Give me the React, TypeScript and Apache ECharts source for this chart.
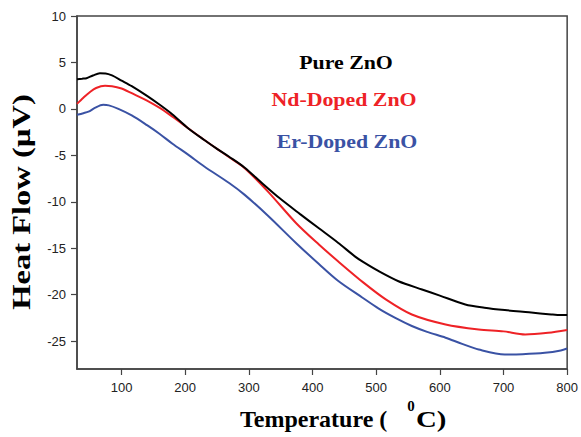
import React, { useEffect, useRef } from "react";
import * as echarts from "echarts";

const xTicks = [100, 200, 300, 400, 500, 600, 700, 800];
const yTicks = [-25, -20, -15, -10, -5, 0, 5, 10];

const pureZnO: [number, number][] = [
  [30, 3.2], [38, 3.25], [45, 3.3], [55, 3.6], [66, 3.84], [75, 3.82], [85, 3.6],
  [100, 3.05], [116, 2.45], [140, 1.4], [160, 0.44], [180, -0.6], [204, -2.05],
  [230, -3.35], [250, -4.3], [269, -5.15], [293, -6.3], [320, -7.95], [348, -9.6], [380, -11.3],
  [410, -12.85], [440, -14.4], [467, -15.9], [480, -16.5], [504, -17.47],
  [535, -18.55], [572, -19.44], [600, -20.1], [640, -21.05], [670, -21.4],
  [702, -21.66], [740, -21.9], [775, -22.13], [790, -22.2], [800, -22.2],
];

const ndDopedZnO: [number, number][] = [
  [30, 0.54], [40, 1.2], [50, 1.8], [60, 2.25], [74, 2.48], [85, 2.45], [100, 2.2],
  [116, 1.69], [140, 0.9], [160, 0.1], [180, -0.85], [204, -2.05], [230, -3.35], [250, -4.3],
  [269, -5.2], [293, -6.35], [330, -8.9], [374, -12.28], [410, -14.6], [440, -16.4], [480, -18.7],
  [515, -20.5], [556, -22.13], [609, -23.2], [661, -23.74], [700, -23.95],
  [734, -24.28], [770, -24.1], [800, -23.8],
];

const erDopedZnO: [number, number][] = [
  [30, -0.64], [40, -0.46], [48, -0.3], [58, 0.1], [71, 0.44], [80, 0.38], [95, 0.0],
  [116, -0.7], [140, -1.75], [160, -2.7], [180, -3.75], [204, -4.9], [230, -6.2],
  [269, -7.98], [293, -9.23], [330, -11.5], [374, -14.43], [410, -16.7], [440, -18.5],
  [478, -20.3], [504, -21.5], [530, -22.5], [556, -23.37], [580, -24.0], [609, -24.63],
  [635, -25.3], [661, -25.9], [702, -26.43], [730, -26.4], [765, -26.25], [790, -26.0],
  [800, -25.8],
];

const seriesNames = ["Pure ZnO", "Nd-Doped ZnO", "Er-Doped ZnO"];
const seriesColors = ["#000000", "#ee2226", "#3a52a4"];

export default function App() {
  const ref = useRef<HTMLDivElement>(null);
  useEffect(() => {
    if (!ref.current) return;
    const chart = echarts.init(ref.current, undefined, { renderer: "svg" });
    const datasets = [pureZnO, ndDopedZnO, erDopedZnO];
    const serif = "'Liberation Serif', 'Times New Roman', serif";
    chart.setOption({
      animation: false,
      backgroundColor: "#ffffff",
      grid: {
        left: 77,
        top: 16,
        right: 12,
        bottom: 68,
        show: true,
        borderColor: "#444",
        borderWidth: 1.5,
        backgroundColor: "transparent",
      },
      xAxis: {
        type: "value",
        min: 30,
        max: 800,
        splitLine: { show: false },
        axisLine: { show: true, onZero: false, lineStyle: { color: "#444", width: 1.5 } },
        axisTick: { show: true, inside: false, length: 6, customValues: xTicks, lineStyle: { color: "#444", width: 1.2 } },
        axisLabel: {
          customValues: xTicks,
          margin: 12,
          fontSize: 13,
          fontFamily: "'Liberation Sans', Arial, sans-serif",
          color: "#222",
        },
      },
      yAxis: {
        type: "value",
        min: -28,
        max: 10,
        splitLine: { show: false },
        axisLine: { show: true, onZero: false, lineStyle: { color: "#444", width: 1.5 } },
        axisTick: { show: true, inside: false, length: 6, customValues: yTicks, lineStyle: { color: "#444", width: 1.2 } },
        axisLabel: {
          customValues: yTicks,
          margin: 11,
          fontSize: 13,
          fontFamily: "'Liberation Sans', Arial, sans-serif",
          color: "#222",
        },
      },
      series: datasets.map((d, i) => ({
        name: seriesNames[i],
        type: "line",
        data: d,
        smooth: 0.3,
        showSymbol: false,
        lineStyle: { color: seriesColors[i], width: 2 },
        itemStyle: { color: seriesColors[i] },
        z: 3 - i,
      })),
      graphic: [
        {
          type: "text",
          x: 346, y: 62.6, scaleX: 1.15,
          style: { text: seriesNames[0], fontSize: 19, fontWeight: "bold", fontFamily: serif, fill: seriesColors[0], align: "center", verticalAlign: "middle" },
        },
        {
          type: "text",
          x: 344, y: 99.6, scaleX: 1.15,
          style: { text: seriesNames[1], fontSize: 19, fontWeight: "bold", fontFamily: serif, fill: seriesColors[1], align: "center", verticalAlign: "middle" },
        },
        {
          type: "text",
          x: 347, y: 141.6, scaleX: 1.15,
          style: { text: seriesNames[2], fontSize: 19, fontWeight: "bold", fontFamily: serif, fill: seriesColors[2], align: "center", verticalAlign: "middle" },
        },
        {
          type: "text",
          x: 240, y: 419,
          style: { text: "Temperature (", fontSize: 24, fontWeight: "bold", fontFamily: serif, fill: "#000", align: "left", verticalAlign: "middle" },
        },
        {
          type: "text",
          x: 411, y: 405.5,
          style: { text: "0", fontSize: 15, fontWeight: "bold", fontFamily: serif, fill: "#000", align: "center", verticalAlign: "middle" },
        },
        {
          type: "text",
          x: 416, y: 419, scaleX: 1.2,
          style: { text: "C)", fontSize: 24, fontWeight: "bold", fontFamily: serif, fill: "#000", align: "left", verticalAlign: "middle" },
        },
        {
          type: "text",
          x: 21, y: 202, rotation: Math.PI / 2, scaleX: 1.25,
          style: { text: "Heat Flow (\u00b5V)", fontSize: 26, fontWeight: "bold", fontFamily: serif, fill: "#000", align: "center", verticalAlign: "middle" },
        },
      ],
    });
    return () => chart.dispose();
  }, []);
  return (
    <div
      ref={ref}
      style={{ position: "fixed", left: 0, top: 0, width: 581, height: 437, background: "#fff" }}
    />
  );
}
